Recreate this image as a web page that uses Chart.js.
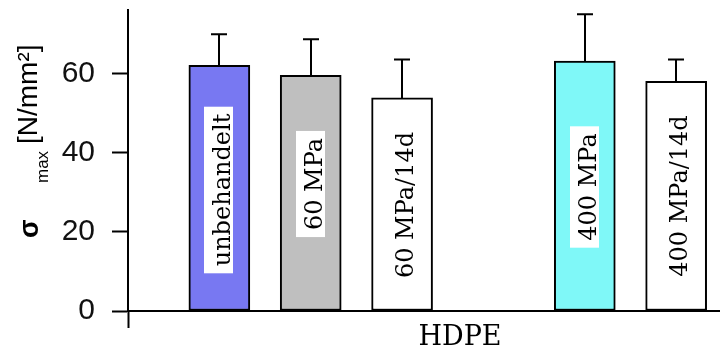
<!DOCTYPE html>
<html>
<head>
<meta charset="utf-8">
<script src="https://cdn.jsdelivr.net/npm/chart.js@4/dist/chart.umd.min.js"></script>
<style>
  html, body { margin: 0; padding: 0; background: #fff; }
  #wrap { width: 720px; height: 353px; }
</style>
</head>
<body>
<div id="wrap"><canvas id="c" width="720" height="353"></canvas></div>
<script>
// Maximum stress of HDPE specimens after different high-pressure treatments
const categories = ['unbehandelt', '60 MPa', '60 MPa/14d', '400 MPa', '400 MPa/14d'];
const slots      = [1, 2, 3, 5, 6];            // position along the HDPE group (slot 4 left empty)
const means      = [62.0, 59.5, 53.8, 63.1, 58.0];
const errors     = [7.9, 9.1, 9.7, 11.8, 5.5];
const yTicks     = [0, 20, 40, 60];
const groupLabel = 'HDPE';

const fills = ['#7878f2', '#bfbfbf', '#ffffff', '#7ff8f8', '#ffffff'];

// upward error whiskers with caps
const errorBars = {
  id: 'errorBars',
  afterDatasetsDraw(chart) {
    const { ctx, scales: { y } } = chart;
    const meta = chart.getDatasetMeta(0);
    ctx.save();
    ctx.strokeStyle = '#000';
    ctx.lineWidth = 2;
    meta.data.forEach((bar, i) => {
      const x = Math.round(bar.x);
      const top = y.getPixelForValue(means[i] + errors[i]);
      const base = y.getPixelForValue(means[i]);
      ctx.beginPath();
      ctx.moveTo(x, base);
      ctx.lineTo(x, top);
      ctx.moveTo(x - 8, top);
      ctx.lineTo(x + 8, top);
      ctx.stroke();
    });
    ctx.restore();
  }
};

// vertical category names written inside the bars on a white tag
const barNames = {
  id: 'barNames',
  afterDatasetsDraw(chart, args, opts) {
    const { ctx } = chart;
    const meta = chart.getDatasetMeta(0);
    ctx.save();
    ctx.font = opts.font;
    meta.data.forEach((bar, i) => {
      const text = categories[i];
      const w = ctx.measureText(text).width;
      const cy = opts.centre[i];
      const base = Math.round(bar.x) + 11;
      ctx.fillStyle = '#fff';
      ctx.fillRect(base - 26, cy - w / 2 - 7, 29, w + 14);
      ctx.save();
      ctx.translate(base, cy + w / 2);
      ctx.rotate(-Math.PI / 2);
      ctx.fillStyle = '#000';
      ctx.textAlign = 'left';
      ctx.textBaseline = 'alphabetic';
      ctx.fillText(text, 0, 0);
      ctx.restore();
    });
    ctx.restore();
  }
};

// axis titles: sigma_max [N/mm²] on the left, group name below
const axisTitles = {
  id: 'axisTitles',
  afterDraw(chart) {
    const { ctx } = chart;
    ctx.save();
    ctx.fillStyle = '#000';
    ctx.textAlign = 'left';
    ctx.textBaseline = 'alphabetic';
    const vertical = (text, font, x, yStart) => {
      ctx.save();
      ctx.font = font;
      ctx.translate(x, yStart);
      ctx.rotate(-Math.PI / 2);
      ctx.fillText(text, 0, 0);
      ctx.restore();
    };
    vertical('σ', 'bold 27px "Liberation Sans", Arial, sans-serif', 38, 238);
    vertical('max', '17px "Liberation Sans", Arial, sans-serif', 48, 183);
    vertical('[N/mm²]', '28px "Liberation Sans", Arial, sans-serif', 37, 144);

    ctx.font = '27px "DejaVu Serif", "Liberation Serif", serif';
    ctx.textAlign = 'center';
    ctx.fillText(groupLabel, 460, 345);
    ctx.restore();
  }
};

new Chart(document.getElementById('c'), {
  type: 'bar',
  data: {
    datasets: [{
      data: slots.map((s, i) => ({ x: s, y: means[i] })),
      backgroundColor: fills,
      borderColor: '#000',
      borderWidth: 2,
      borderSkipped: false,
      barThickness: 61
    }]
  },
  options: {
    responsive: false,
    devicePixelRatio: 1,
    animation: false,
    layout: { padding: { top: 10, left: 0, right: 0, bottom: 0 } },
    plugins: {
      legend: { display: false },
      tooltip: { enabled: false },
      barNames: {
        font: '24px "DejaVu Serif", "Liberation Serif", serif',
        centre: [190, 184, 205, 187, 196]
      }
    },
    scales: {
      x: {
        type: 'linear',
        min: 0,
        max: 6.48,
        offset: false,
        afterBuildTicks: s => { s.ticks = [{ value: 0 }]; },
        afterFit: s => { s.height = 42; s.paddingLeft = 0; s.paddingRight = 0; },
        ticks: { display: false },
        grid: { offset: false, drawOnChartArea: false, drawTicks: true, tickLength: 17, color: '#000', tickWidth: 2 },
        border: { display: true, color: '#000', width: 2 }
      },
      y: {
        min: 0,
        max: 76,
        afterBuildTicks: s => { s.ticks = yTicks.map(v => ({ value: v })); },
        afterFit: s => { s.width = 128; s.paddingTop = 0; s.paddingBottom = 0; },
        ticks: {
          padding: 17,
          color: '#111',
          font: { family: '"Liberation Sans", Arial, sans-serif', size: 30 }
        },
        grid: { drawOnChartArea: false, drawTicks: true, tickLength: 16, color: '#000', tickWidth: 2 },
        border: { display: true, color: '#000', width: 2 }
      }
    }
  },
  plugins: [errorBars, barNames, axisTitles]
});
</script>
</body>
</html>
